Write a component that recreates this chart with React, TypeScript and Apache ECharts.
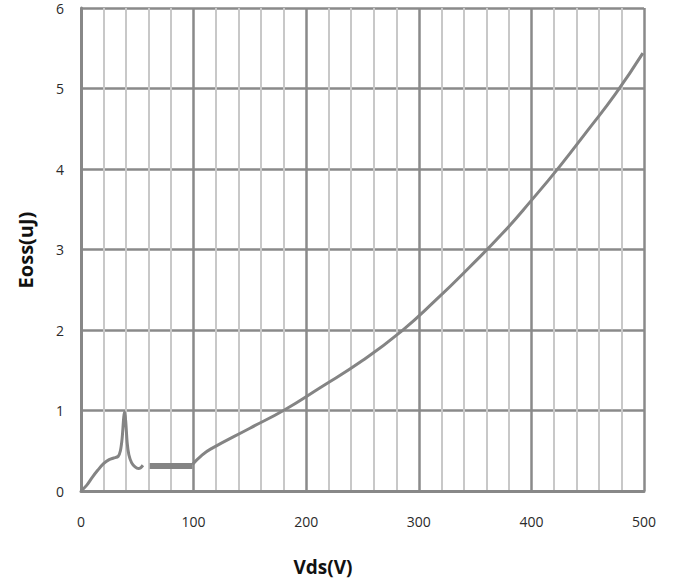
import React, { useEffect, useRef } from "react";
import * as echarts from "echarts";

const xTicks = [0, 100, 200, 300, 400, 500];
const yTicks = [0, 1, 2, 3, 4, 5, 6];

// Low-voltage region with the resonance spike
const spikeCurve: [number, number][] = [
  [0, 0], [5, 0.07], [10, 0.17], [15, 0.26], [20, 0.34], [25, 0.39], [29, 0.41],
  [33, 0.43], [35, 0.5], [36.5, 0.65], [38, 0.92], [38.8, 0.98], [39.8, 0.85],
  [41, 0.6], [42.5, 0.45], [45, 0.35], [48, 0.3], [51, 0.28], [53, 0.29], [55, 0.32],
];

// Flat thick segment
const flatSegment: [number, number][] = [[61, 0.31], [99, 0.31]];

// Main Eoss curve
const mainCurve: [number, number][] = [
  [99, 0.33], [107, 0.44], [115, 0.52], [150, 0.78], [181, 1.01], [212, 1.28],
  [250, 1.62], [285, 1.99], [315, 2.37], [345, 2.78], [375, 3.21], [400, 3.61],
  [425, 4.03], [450, 4.48], [475, 4.94], [499, 5.44],
];

export default function App() {
  const ref = useRef<HTMLDivElement>(null);
  useEffect(() => {
    if (!ref.current) return;
    const chart = echarts.init(ref.current, null, { renderer: "svg" });
    const lineColor = "#848484";
    chart.setOption({
      animation: false,
      grid: { left: 81, right: 29, top: 8, bottom: 92 },
      xAxis: {
        type: "value",
        min: xTicks[0],
        max: xTicks[xTicks.length - 1],
        interval: 100,
        axisLine: { show: true, lineStyle: { color: "#888", width: 3 } },
        axisTick: { show: false },
        axisLabel: {
          margin: 23,
          color: "#2a2a2a",
          fontSize: 14,
          fontFamily: "Open Sans",
        },
        splitLine: { show: true, lineStyle: { color: "#8a8a8a", width: 2.5 } },
        minorTick: { show: false, splitNumber: 5 },
        minorSplitLine: { show: true, lineStyle: { color: "#c8c8c8", width: 2 } },
      },
      yAxis: {
        type: "value",
        min: yTicks[0],
        max: yTicks[yTicks.length - 1],
        interval: 1,
        axisLine: { show: true, lineStyle: { color: "#888", width: 3 } },
        axisTick: { show: false },
        axisLabel: {
          margin: 17,
          color: "#2a2a2a",
          fontSize: 14,
          fontFamily: "Open Sans",
        },
        splitLine: { show: true, lineStyle: { color: "#8a8a8a", width: 2.5 } },
      },
      graphic: [
        {
          type: "text",
          x: 323,
          y: 567,
          style: {
            text: "Vds(V)",
            font: "bold 19px 'Open Sans'",
            fill: "#111",
            align: "center",
            verticalAlign: "middle",
          },
        },
        {
          type: "text",
          x: 25,
          y: 250,
          rotation: Math.PI / 2,
          style: {
            text: "Eoss(uJ)",
            font: "bold 20px 'Open Sans'",
            fill: "#111",
            align: "center",
            verticalAlign: "middle",
          },
        },
      ],
      series: [
        {
          type: "line",
          data: spikeCurve,
          smooth: 0.3,
          showSymbol: false,
          lineStyle: { color: lineColor, width: 3 },
        },
        {
          type: "line",
          data: flatSegment,
          showSymbol: false,
          lineStyle: { color: lineColor, width: 6 },
        },
        {
          type: "line",
          data: mainCurve,
          smooth: 0.5,
          showSymbol: false,
          lineStyle: { color: lineColor, width: 3 },
        },
      ],
    });
    return () => chart.dispose();
  }, []);
  return (
    <div
      ref={ref}
      style={{ position: "absolute", left: 0, top: 0, width: 673, height: 583 }}
    />
  );
}
